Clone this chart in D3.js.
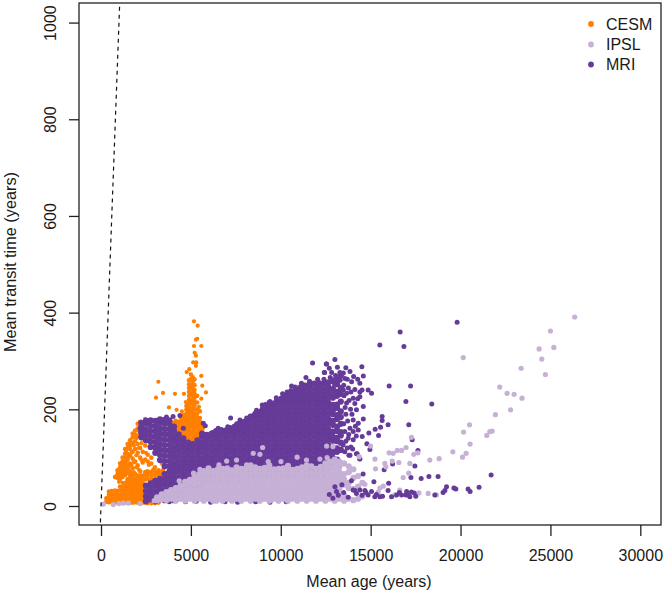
<!DOCTYPE html>
<html><head><meta charset="utf-8">
<script src="https://d3js.org/d3.v7.min.js"></script>
<style>html,body{margin:0;padding:0;background:#fff}svg{display:block}text{font-family:"Liberation Sans",Arial,sans-serif;fill:#1a1a1a}</style>
</head><body><svg id="c" width="666" height="595"></svg>
<script>
const xTicks=[0,5000,10000,15000,20000,25000,30000];
const yTicks=[0,200,400,600,800,1000];
const seriesNames=["CESM","IPSL","MRI"];
const seriesColors=["#FF7F00","#C6B0D6","#653A98"];

const cesmColumns=[
[300,9,16],[440,8,15,23,30],[600,8,15,23,31],[780,8,16,24,32,60],[920,7,15,23,31,58,66,74],
[1060,7,15,23,32,40,56,64,72,80,88],[1200,7,15,23,31,39,60,68,76,84,92,100],
[1340,7,15,23,31,39,47,64,72,80,90,100,108,118],[1480,8,16,24,32,40,48,56,68,78,86,96,108,120,128],
[1620,7,15,23,31,39,47,55,63,72,88,104,118,126,136],[1760,7,15,23,31,39,47,55,63,78,98,112,130,142,150],
[1900,8,16,24,32,40,48,56,66,92,118,134,148,156],[2040,7,15,23,31,39,47,55,63,84,110,128,145,160,170],
[2180,7,15,23,31,39,47,55,63,72,100,120,150,165,174],[2320,7,15,23,31,39,47,55,63,90,112,140,172],
[2460,7,15,55,63,70,96,125,180],[2600,6,56,64,72,92,106],[2800,6,54,62,70,88,100],[3000,6,56,64,72,80],
[3200,7,58,66,74],[3400,56,64,70,88],[3550,62,68],[4400,75],
[4000,164,172],[4150,160,168,176],[4300,150,158,166,174],[4450,142,150,158,166,174,182],
[4600,140,148,156,164,172,180,188],[4750,135,143,151,159,167,175,183,191,199,207],
[4900,132,140,148,156,164,172,180,188,196,204,212,220,228,236,244,252,260],
[5000,134,150,166,182,198,214,230,246,262,272],
[5100,130,138,146,154,162,170,178,186,194,202,210,218,226,234,242,250,258,266],
[5200,136,144,152,160,168,176,184,192,200,208,216,224,232,240,250,262],
[5350,135,143,151,159,167,175,183,191,200,214,228],[5500,150,158,166,174,182,196],[5650,160,168]
];
const cesmScatter=[[5170,382],[5375,373],[5355,346],[5280,344],[5170,331],[5580,331],[5210,317],[5280,311],[5130,297],[5300,297],[5280,290],[4910,283],[4765,277],[3190,257],[3450,234],[3060,224],[4115,232],[4615,232],[3780,204],[4205,199],[5840,235],[5635,249],[5580,269],[5580,222],[4500,196],[4720,215],[5450,205],
[860,62],[990,70],[1130,62],[1130,78],[1270,70],[1270,86],[1410,76],[1410,94],[1550,82],[1550,102],[1690,84],[1690,110],[1830,70],[1830,90],[1830,125],[1970,80],[1970,105],[1970,140],[2110,75],[2110,120],[2110,155],[2250,95],[2250,130],[2250,160],[1400,112],[1540,126],[1680,130],[1820,145],[2400,150],[2500,110],[2660,85],[2900,75],[3100,66],[3300,62],[3450,75],[1000,50],[1200,48],[1450,52],[1750,68],[2000,60],[2560,178],[2380,160]];

const mriColumns=[
[2240,142,152,163,172],[2500,10,20,31,42,136,147,158,170,176],[2760,14,25,36,47,122,133,144,155,166,177],
[3020,10,20,31,42,52,110,121,132,143,154,165,176],[3280,14,25,36,47,56,95,106,117,128,139,150,161,172,179],
[3540,12,22,33,44,55,66,82,93,104,115,126,137,148,159,170,178],
[3800,16,27,38,49,60,71,82,93,104,115,126,137,148,159,170,177],
[4060,12,23,34,45,56,67,78,89,100,111,122,133,144,155,164],
[4320,16,27,38,49,60,71,82,93,104,115,126,137,148],
[4580,22,33,44,55,66,77,88,99,110,121,132,140],[4840,27,38,49,60,71,82,93,104,115,124,131],
[5100,33,44,55,66,77,88,99,110,121,128],[5360,38,49,60,71,82,93,104,115,126,136],
[5620,44,55,66,77,88,99,110,121,132,143,150],[5880,50,61,72,83,94,105,116,127,138,147],
[6140,55,66,77,88,99,110,121,132,143,149],[6400,60,71,82,93,104,115,126,137,148,155],
[6660,55,66,77,88,99,110,121,132,143,152],[6920,60,71,82,93,104,115,126,137,148,156],
[7180,55,66,77,88,99,110,121,132,143,154,161],[7440,60,71,82,93,104,115,126,137,148,159,164],
[7700,55,66,77,88,99,110,121,132,143,154,165,170],[7960,60,71,82,93,104,115,126,137,148,159,170,174],
[8220,55,66,77,88,99,110,121,132,143,154,165,176,180],[8480,60,71,82,93,104,115,126,137,148,159,170,181,186],
[8740,66,77,88,99,110,121,132,143,154,165,176,187,192],[9000,60,71,82,93,104,115,126,137,148,159,170,181,192,200],
[9260,66,77,88,99,110,121,132,143,154,165,176,187,198,206],[9520,60,71,82,93,104,115,126,137,148,159,170,181,192,203,211],
[9780,66,77,88,99,110,121,132,143,154,165,176,187,198,209,217],[10040,60,71,82,93,104,115,126,137,148,159,170,181,192,203,214,222],
[10300,66,77,88,99,110,121,132,143,154,165,176,187,198,209,220,228],
[10560,60,71,82,93,104,115,126,137,148,159,170,181,192,203,214,225,233],
[10820,66,77,88,99,110,121,132,143,154,165,176,187,198,209,220,231,240],
[11080,60,71,82,93,104,115,126,137,148,159,170,181,192,203,214,225,236,245],
[11340,66,77,88,99,110,121,132,143,154,165,176,187,198,209,220,231,242,249],
[11600,60,71,82,93,104,115,126,137,148,159,170,181,192,203,214,225,236,247,252],
[11860,66,77,88,99,110,121,132,143,154,165,176,187,198,209,220,231,242,253],
[12120,60,71,82,93,104,115,126,137,148,159,170,181,192,203,214,225,236,247,254],
[12380,66,77,88,99,110,121,132,143,154,165,176,187,198,209,220,231,242,253],
[12640,80,92,104,115,126,137,148,159,170,181,192,203,214,225,236,247,256],
[12900,88,99,110,121,135,143,154,168,176,190,198,209,224,231,242,258],
[13130,96,112,119,134,141,155,164,180,188,203,210,228,236,252,262],
[13340,116,131,146,153,170,184,196,216,232,244,270]
];
const mriScatter=[[19810,380],[16640,360],[15510,333],[16850,330],[13010,303],[14510,288],[13620,286],[13850,278],[14590,269],[16030,248],[17220,248],[14860,240],[15050,233],[16960,216],[18400,211],[14400,226],[14590,206],[15640,185],[15640,177],[17120,168],[15970,168],[15550,163],[15250,159],[14900,151],[15440,146],[14530,144],[17310,137],[14790,129],[14960,117],[17630,115],[13790,105],[14250,108],[14400,97],[17460,83],[16220,87],[15750,75],[17240,59],[17810,57],[18240,61],[18750,61],[21700,64],[15180,50],[16000,47],
[12530,294],[12420,276],[12830,276],[13290,276],[12920,261],[13570,264],[13940,257],[14400,254],[14120,241],[14400,236],[13660,233],[14030,223],[13660,213],[14210,199],[14030,178],[14310,171],[14590,180],[13850,161],[14030,154],[14310,157],[14030,137],[13750,140],[13470,126],[13290,116],[14210,108],[14390,98],[13850,105],
[11770,296],[12550,294],[12440,276],[11400,266],[10600,248],[10560,239],[8970,209],[9400,216],[9580,213],[8900,197],[8560,192],[8410,182],[7210,182],[7730,178],[6520,161],[7490,159],[7910,163],[4580,161],[5690,171],[5800,166],[3640,184],[4010,185],[4390,187],[2170,160],
[3800,9],[4700,9],[5300,10],[6100,8],[6900,9],[7600,8],[8600,9],[9400,8],[10300,9],
[6200,152],[6700,158],[7050,164],[7550,170],[8100,182],[8300,186],[8650,198],[9150,210],[9350,214],[9750,224],[10100,232],[10350,236],[10800,246],[11150,254],[11600,258],[12050,262],[12400,262],[12750,266],[13050,270],[13300,260],[13000,250],
[13500,250],[13760,244],[13520,228],[13800,218],[13580,204],[13880,200],[13620,190],[13720,176],[13500,170],[13960,190],[13560,154],[13780,148],[13620,134],[13900,122],[13560,112],[13700,120],[14120,212],[14280,222],[13900,236],[14150,165],[14200,145],[14000,118],[13480,240],[13700,262],[12700,285],[13150,287],[13480,275],[14050,268],[14280,262],[14520,240]];
const mriTail=[[14120,32],[14400,33],[14680,32],[14860,23],[15050,30],[15230,19],[15510,19],[15970,32],[16160,19],[16440,23],[16720,23],[17000,30],[17270,29],[17510,20],[17180,19],[18570,23],[19130,32],[19220,40],[19030,28],[19630,37],[19740,35],[20420,35],[20530,30],[21030,39],[13010,40],[13100,30],[13200,22],[14030,33],[14210,26],[14520,22],[14740,28],[15320,24],[15660,20],[16600,28],[17420,27],[16950,23],[13500,28],[13750,18],[12700,24],[12900,16],[13400,44],[17100,22],[13930,52],[14580,66]];

const ipslColumns=[
[3120,12,18],[3380,14,24],[3640,12,22,29],[3900,15,26,33],[4160,11,22,33,37],[4420,15,26,37,42],
[4680,11,22,33,44,50],[4940,15,26,37,48,54],[5200,11,22,33,44,55,60],[5460,15,26,37,48,59,66],
[5720,11,22,33,44,55,66,72],[5980,15,26,37,48,59,70,78],[6240,11,22,33,44,55,66,72],[6500,15,26,37,48,59,70,76],
[6760,11,22,33,44,55,66,77],[7020,15,26,37,48,59,70,78],[7280,11,22,33,44,55,66,74],[7540,15,26,37,48,59,70,80],
[7800,11,22,33,44,55,66,77],[8060,15,26,37,48,59,70,78],[8320,11,22,33,44,55,66,77,84],[8580,15,26,37,48,59,70,80],
[8840,11,22,33,44,55,66,77],[9100,15,26,37,48,59,70,79],[9360,11,22,33,44,55,66,77,84],[9620,15,26,37,48,59,70,76],
[9880,11,22,33,44,55,66,77],[10140,15,26,37,48,59,70,78],[10400,11,22,33,44,55,66,77,83],[10660,15,26,37,48,59,70,75],
[10920,11,22,33,44,55,66,77],[11180,15,26,37,48,59,70,80],[11440,11,22,33,44,55,66,77,84],[11700,15,26,37,48,59,70,82],
[11960,11,22,33,44,55,66,77],[12220,15,26,37,48,59,70,81],[12480,11,22,33,44,55,66,77,88],[12740,15,26,37,48,59,70,81,92],
[13000,11,22,33,44,55,66,77,88,96],[13260,15,26,37,48,59,70,81,92],[13520,11,22,44,55,66,88],
[13780,15,37,48,70,82],[14040,12,35,58,76],[14300,15,40,62],[14540,20,48]
];
const ipslScatter=[[26350,391],[25000,362],[25190,328],[24370,325],[24520,304],[24720,272],[23370,285],[20150,307],[22180,246],[22590,233],[22980,231],[23420,223],[22780,199],[21940,189],[20500,168],[20170,153],[21760,155],[21630,154],[21460,146],[20530,128],[20310,109],[20110,101],[19570,112],[18810,98],[18290,95],[17270,142],[16970,121],[16720,115],[16480,115],[16250,109],[16030,110],[17400,107],[17630,110],[14990,124],[14360,102],[15240,97],[15790,88],[16200,93],[16570,90],[17180,88],[15270,77],[15850,81],[17120,68],[16810,59],[14680,45],[18200,26],[18660,23],[17680,27],[16620,33],[15510,37],[15700,41],[15420,29],[16350,23],[130,4],[685,3],[1240,6],[1520,6],[2170,5],[2960,11],[1000,5],
[8990,121],[8470,109],[8840,107],[7540,95],[6990,93],[6560,85],[10010,92],[10910,101],[11430,95],[12180,97],[12580,100],[12550,124],[8100,85],[9300,92],[6430,10],[5150,68],[5500,76],[4350,52],[12900,123]];

const flat=cols=>cols.flatMap(([x,...ys])=>ys.map(y=>[x,y]));
const W=666,H=595,L=79,R=661,T=3,B=525;
const xScale=d3.scaleLinear().domain([-1224,31151]).range([L,R]);
const yScale=d3.scaleLinear().domain([-39.3,1040.5]).range([B,T]);
const svg=d3.select("#c");
const clip=svg.append("defs").append("clipPath").attr("id","box");
clip.append("rect").attr("x",L).attr("y",T).attr("width",R-L).attr("height",B-T);
const plot=svg.append("g").attr("clip-path","url(#box)");

function dots(data,color,r){
  plot.append("g").attr("fill",color).selectAll("circle").data(data).join("circle")
    .attr("cx",d=>xScale(d[0])).attr("cy",d=>yScale(d[1])).attr("r",r);
}
dots(flat(cesmColumns),seriesColors[0],2.3);
dots(cesmScatter,seriesColors[0],2.1);
dots(flat(mriColumns),seriesColors[2],3.1);
dots(mriScatter,seriesColors[2],2.5);
dots(flat(ipslColumns),seriesColors[1],3.1);
dots(ipslScatter,seriesColors[1],2.6);
dots(mriTail,seriesColors[2],2.5);

plot.append("line").attr("x1",xScale(-100)).attr("y1",yScale(-100)).attr("x2",xScale(1100)).attr("y2",yScale(1100))
  .attr("stroke","#111").attr("stroke-width",1.2).attr("stroke-dasharray","4 4");

svg.append("rect").attr("x",L).attr("y",T).attr("width",R-L).attr("height",B-T)
  .attr("fill","none").attr("stroke","#222").attr("stroke-width",1.3);

const gx=svg.append("g").attr("transform",`translate(0,${B})`)
  .call(d3.axisBottom(xScale).tickValues(xTicks).tickFormat(d3.format("d")).tickSize(11).tickPadding(14));
const gy=svg.append("g").attr("transform",`translate(${L},0)`)
  .call(d3.axisLeft(yScale).tickValues(yTicks).tickFormat(d3.format("d")).tickSize(10).tickPadding(0));
[gx,gy].forEach(g=>{g.select(".domain").remove();g.selectAll("line").attr("stroke","#222").attr("stroke-width",1.3);
  g.selectAll("text").style("font-size","16px").attr("fill","#1a1a1a").style("font-family",'"Liberation Sans",Arial,sans-serif');});
gy.selectAll("text").attr("transform","translate(-29,0) rotate(-90)").attr("x",0).attr("y",0).attr("dy","0").style("text-anchor","middle")
  .attr("dominant-baseline","central");

svg.append("text").attr("x",369).attr("y",587).attr("text-anchor","middle").style("font-size","16px").text("Mean age (years)");
svg.append("text").attr("transform","translate(16,262) rotate(-90)").attr("text-anchor","middle").style("font-size","16.3px").text("Mean transit time (years)");

const legendY=[24,44.5,64.5];
const legend=svg.append("g").selectAll("g").data(seriesNames).join("g").attr("transform",(d,i)=>`translate(591,${legendY[i]})`);
legend.append("circle").attr("r",2.9).attr("fill",(d,i)=>seriesColors[i]);
legend.append("text").attr("x",15).attr("y",5.5).style("font-size","16px").text(d=>d);
</script></body></html>
